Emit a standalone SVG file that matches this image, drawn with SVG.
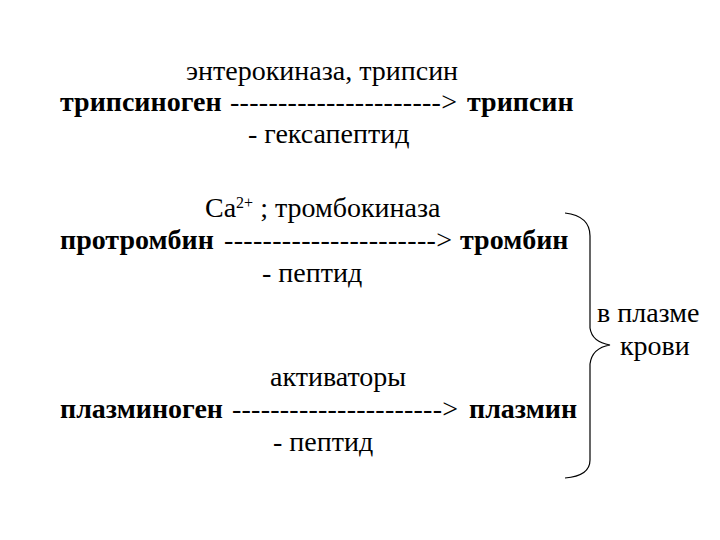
<svg xmlns="http://www.w3.org/2000/svg" width="720" height="540" viewBox="0 0 720 540">
<style>
text{font-family:"Liberation Serif","Times New Roman",serif;font-size:28px;fill:#000}
.b{font-weight:bold}
.brace{fill:none;stroke:#000;stroke-width:1.2}
</style>
<rect width="720" height="540" fill="#fff"/>
<g id="trypsin">
<text x="186" y="80">энтерокиназа, трипсин</text>
<text class="b" x="60" y="111">трипсиноген</text>
<text x="230" y="111" textLength="227" lengthAdjust="spacing">----------------------&gt;</text>
<text class="b" x="467" y="111">трипсин</text>
<text x="248" y="143">- гексапептид</text>
</g>
<g id="thrombin">
<text x="205" y="217">Ca<tspan font-size="16" dy="-9">2+</tspan><tspan dy="9"> ; тромбокиназа</tspan></text>
<text class="b" x="60" y="249">протромбин</text>
<text x="224" y="249" textLength="228" lengthAdjust="spacing">----------------------&gt;</text>
<text class="b" x="460" y="249">тромбин</text>
<text x="262" y="282">- пептид</text>
</g>
<g id="plasmin">
<text x="270" y="386">активаторы</text>
<text class="b" x="60" y="418">плазминоген</text>
<text x="232" y="418" textLength="226" lengthAdjust="spacing">----------------------&gt;</text>
<text class="b" x="469" y="418">плазмин</text>
<text x="273" y="451">- пептид</text>
</g>
<g id="connectors">
<path class="brace" d="M565,213 Q590,216 590,236 L590,328 Q592,342 610,345 Q592,348 590,364 L590,460 Q590,476 565,478"/>
</g>
<g id="plasma">
<text x="597" y="322">в плазме</text>
<text x="620" y="355">крови</text>
</g>
</svg>
